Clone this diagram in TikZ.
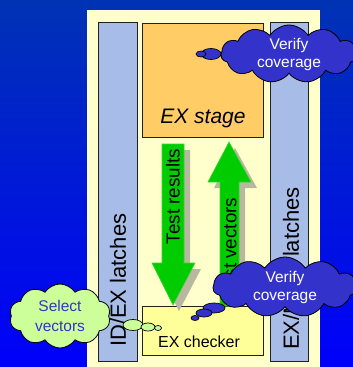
\documentclass[tikz,border=0pt]{standalone}
\usepackage{fontspec}
\setmainfont{Liberation Sans}
\usetikzlibrary{shapes.symbols}
\definecolor{bgtop}{HTML}{0033B4}
\definecolor{bgbot}{HTML}{0000FA}
\definecolor{panel}{HTML}{FFFFCC}
\definecolor{latch}{HTML}{A8BCE8}
\definecolor{stagec}{HTML}{FFCC66}
\definecolor{checkc}{HTML}{FFFF99}
\definecolor{arrowg}{HTML}{00CC00}
\definecolor{shadowc}{HTML}{B8B8A0}
\definecolor{cloudb}{HTML}{3333CC}
\definecolor{cloudg}{HTML}{CCFF99}
\definecolor{edgec}{HTML}{202020}
\tikzset{
  latchbar/.style={draw=edgec, line width=0.8pt, fill=latch},
  boxst/.style={draw=edgec, line width=0.8pt},
  bigarrow/.style={fill=arrowg, draw=arrowg!80!white, line width=0.6pt},
  arrowshadow/.style={fill=shadowc},
  cloudbase/.style={cloud, cloud ignores aspect, cloud puff arc=115, draw=black, line width=0.8pt, align=center, inner sep=0pt},
  bluecloud/.style={cloudbase, cloud puffs=11, fill=cloudb, text=white, font=\fontsize{15.5}{18}\selectfont},
  greencloud/.style={cloudbase, cloud puffs=10, fill=cloudg, text=cloudb, font=\fontsize{15.5}{19.5}\selectfont},
  bubbleb/.style={draw=black, line width=0.7pt, fill=cloudb},
  bubbleg/.style={draw=black, line width=0.7pt, fill=cloudg},
  rottext/.style={rotate=90, inner sep=0pt},
}
\begin{document}
\begin{tikzpicture}[x=1pt,y=-1pt]
\useasboundingbox (0,0) rectangle (353,367);
\shade[top color=bgtop, bottom color=bgbot] (0,0) rectangle (353,367);
\fill[panel] (87,10) rectangle (320,367);
% latches
\draw[latchbar] (98,22) rectangle (137,361);
\draw[latchbar] (270,22) rectangle (308,361);
% boxes
\draw[boxst, fill=stagec] (142,23) rectangle (263,137);
\node[inner sep=0pt, font=\fontsize{21}{21}\selectfont\itshape] (stage) at (203,118) {EX stage};
\draw[boxst, fill=checkc] (142,306) rectangle (263,355);
\node[inner sep=0pt, font=\fontsize{16}{16}\selectfont] (checker) at (199,342) {EX checker};
% arrow shadows
\fill[arrowshadow] (168,150) -- (190,150) -- (190,269) -- (201,269) -- (179,311) -- (158,269) -- (168,269) -- cycle;
\fill[arrowshadow] (235,148) -- (257,188) -- (245,188) -- (245,306) -- (226,306) -- (226,188) -- (214,188) -- cycle;
% down arrow
\draw[bigarrow] (162,144) -- (184,144) -- (184,263) -- (195,263) -- (173,305) -- (152,263) -- (162,263) -- cycle;
% up arrow
\draw[bigarrow] (229,142) -- (251,182) -- (239,182) -- (239,306) -- (220,306) -- (220,182) -- (208,182) -- cycle;
\node[rottext, font=\fontsize{18.8}{18.8}\selectfont] (tres) at (173,196.5) {Test results};
\node[rottext, font=\fontsize{18.8}{18.8}\selectfont] (tvec) at (230,248) {Test vectors};
% latch labels
\node[rottext, font=\fontsize{22}{22}\selectfont, anchor=west] (idex) at (118,347) {ID/EX latches};
\node[rottext, font=\fontsize{22}{22}\selectfont, anchor=west] (exmem) at (291,350) {EX/MEM latches};
% top cloud
\draw[bubbleb] (211,54) ellipse (10 and 5.5);
\draw[bubbleb] (201,54) ellipse (5 and 3);
\node[bluecloud, minimum width=136pt, minimum height=58pt] (cloud1) at (289,54) {Verify\\coverage};
% bottom right cloud
\draw[bubbleb] (214,308) ellipse (11 and 5);
\draw[bubbleb] (204,313) ellipse (8 and 4);
\draw[bubbleb] (195,318) ellipse (4 and 2.5);
\node[bluecloud, minimum width=144pt, minimum height=60pt] (cloud2) at (285,287) {Verify\\coverage};
% left cloud
\draw[bubbleg] (133,325) ellipse (10 and 5.5);
\draw[bubbleg] (148,327) ellipse (7 and 4);
\draw[bubbleg] (158,328) ellipse (3.5 and 2.5);
\node[greencloud, minimum width=101pt, minimum height=64pt] (cloud3) at (60,316) {Select\\vectors};
\end{tikzpicture}
\end{document}
